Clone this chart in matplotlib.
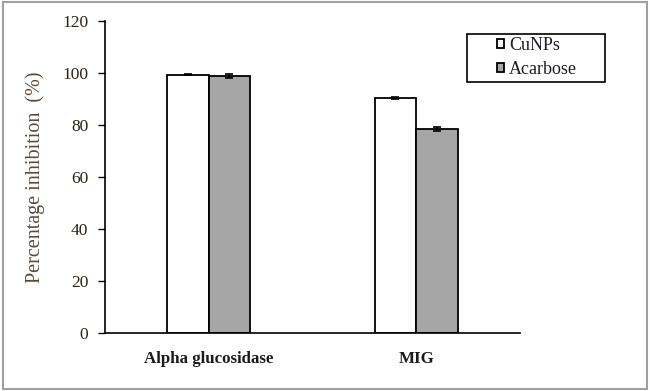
import numpy as np
import matplotlib
matplotlib.use('Agg')
import matplotlib.pyplot as plt
from matplotlib.patches import Rectangle

categories = ['Alpha glucosidase', 'MIG']
series_names = ['CuNPs', 'Acarbose']
cunps = [99.3, 90.3]
cunps_err = [0.3, 0.3]
acarbose = [98.8, 78.5]
acarbose_err = [0.9, 0.8]

plt.rcParams['font.family'] = ['Liberation Serif', 'DejaVu Serif']

fig = plt.figure(figsize=(6.5, 3.91), dpi=100)
ax = fig.add_axes([0.1615, 0.148, 0.6385, 0.799])

x = np.arange(len(categories))
w = 0.2
err_kw = dict(ecolor='black', elinewidth=1.2, capsize=3, capthick=1.2)
ax.bar(x - w / 2, cunps, w, yerr=cunps_err, color='white', edgecolor='black',
       linewidth=1.3, label=series_names[0], error_kw=err_kw)
ax.bar(x + w / 2, acarbose, w, yerr=acarbose_err, color='#a6a6a6', edgecolor='black',
       linewidth=1.3, label=series_names[1], error_kw=err_kw)

ax.set_xlim(-0.5, 1.5)
ax.set_ylim(0, 120)
ax.set_yticks(np.arange(0, 121, 20))
ax.set_xticks(x)
ax.set_xticklabels(categories, fontsize=12.2, fontweight='bold', color='#1a1a1a')
ax.tick_params(axis='x', length=0, pad=13)
ax.tick_params(axis='y', direction='out', length=5, width=1, labelsize=12.5,
               labelcolor='#2a2218', pad=7)
ax.spines['top'].set_visible(False)
ax.spines['right'].set_visible(False)
for s in ['left', 'bottom']:
    ax.spines[s].set_linewidth(1.2)
ax.set_ylabel('Percentage inhibition  (%)', fontsize=14.5, color='#5a4a3c')
ax.yaxis.set_label_coords(-0.145, 0.5)

# legend: box drawn separately, entries indented inside it
leg = ax.legend(loc='center left', bbox_to_anchor=(0.764, 0.853), bbox_transform=fig.transFigure,
                fontsize=13, frameon=False,
                handlelength=0.42, handleheight=0.42, handletextpad=0.28,
                borderpad=0, labelspacing=0.38, borderaxespad=0)
for t in leg.get_texts():
    t.set_color('#1a1a2a')
fig.patches.append(Rectangle((467 / 650, 1 - 82 / 391), 138 / 650, 48 / 391,
                             transform=fig.transFigure, fill=False,
                             edgecolor='black', linewidth=1.2))

fig.patches.append(Rectangle((0.004, 0.006), 0.992, 0.988, transform=fig.transFigure,
                             fill=False, edgecolor='#a0a0a0', linewidth=1.5))

fig.savefig('out.png', dpi=100)
